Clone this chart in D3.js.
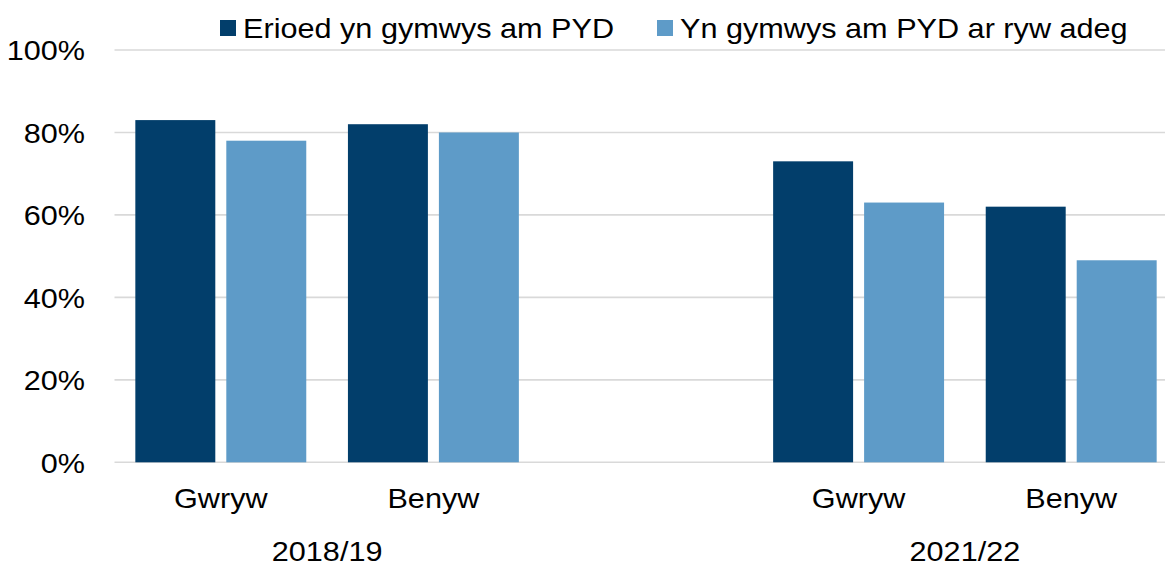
<!DOCTYPE html>
<html>
<head>
<meta charset="utf-8">
<script src="https://cdn.jsdelivr.net/npm/d3@7"></script>
<style>
  html, body { margin: 0; padding: 0; background: #fff; }
  svg { display: block; font-family: "Liberation Sans", Arial, sans-serif; }
</style>
</head>
<body>
<svg></svg>
<script>
// Data
const periods = ["2018/19", "2021/22"];
const genders = ["Gwryw", "Benyw"];
const seriesNames = ["Erioed yn gymwys am PYD", "Yn gymwys am PYD ar ryw adeg"];
const seriesColors = ["#023E6B", "#5E9BC8"];
const erioedGymwys = [83, 82, 73, 62];   // Gwryw 18/19, Benyw 18/19, Gwryw 21/22, Benyw 21/22
const gymwysRywAdeg = [78, 80, 63, 49];
const yTicks = [0, 20, 40, 60, 80, 100];

const width = 1165, height = 567;
const svg = d3.select("svg").attr("width", width).attr("height", height);
const fs = 28.5, stretch = 1.075;

// slots: two genders per period, empty slot between periods
const slots = [];
periods.forEach((p, pi) => {
    genders.forEach((g, gi) => slots.push({ key: p + "-" + g, period: p, gender: g, idx: pi * 2 + gi }));
    if (pi < periods.length - 1) slots.push({ key: "gap" + pi, gap: true });
});
const bars = slots.filter(s => !s.gap);

const x0 = d3.scaleBand()
    .domain(slots.map(s => s.key))
    .range([114.5, 1177.5])
    .padding(0);

const x1 = d3.scaleBand()
    .domain(seriesNames)
    .range([0, x0.bandwidth()])
    .paddingInner(0.121)
    .paddingOuter(0.229);

const y = d3.scaleLinear().domain([0, 100]).range([462.3, 50]);

// Gridlines
svg.append("g")
    .selectAll("line")
    .data(yTicks)
    .enter().append("line")
    .attr("x1", 114.5).attr("x2", 1177.5)
    .attr("y1", d => y(d)).attr("y2", d => y(d))
    .attr("stroke", "#d9d9d9")
    .attr("stroke-width", 1.6);

// Y labels
svg.append("g")
    .selectAll("text")
    .data(yTicks)
    .enter().append("text")
    .attr("transform", d => `translate(85,${y(d)}) scale(${stretch},1)`)
    .attr("text-anchor", "end")
    .attr("dy", "0.36em")
    .attr("font-size", fs)
    .attr("fill", "#000")
    .text(d => d + "%");

// Bars
const values = [erioedGymwys, gymwysRywAdeg];
const grp = svg.append("g")
    .selectAll("g.bar-group")
    .data(bars)
    .enter().append("g")
    .attr("class", "bar-group")
    .attr("transform", d => `translate(${x0(d.key)},0)`);

grp.selectAll("rect")
    .data(d => seriesNames.map((name, si) => ({ name, si, value: values[si][d.idx] })))
    .enter().append("rect")
    .attr("x", d => x1(d.name))
    .attr("y", d => y(d.value))
    .attr("width", x1.bandwidth())
    .attr("height", d => y(0) - y(d.value))
    .attr("fill", d => seriesColors[d.si]);

// Category labels
svg.append("g")
    .selectAll("text")
    .data(bars)
    .enter().append("text")
    .attr("transform", d => `translate(${x0(d.key) + x0.bandwidth() / 2},508) scale(${stretch},1)`)
    .attr("text-anchor", "middle")
    .attr("font-size", fs)
    .text(d => d.gender);

// Period labels
svg.append("g")
    .selectAll("text")
    .data(periods)
    .enter().append("text")
    .attr("transform", p => {
        const ks = bars.filter(b => b.period === p).map(b => x0(b.key) + x0.bandwidth() / 2);
        return `translate(${d3.mean(ks)},561) scale(${stretch},1)`;
    })
    .attr("text-anchor", "middle")
    .attr("font-size", fs)
    .text(p => p);

// Legend
const legendX = [220, 657];
const leg = svg.append("g")
    .selectAll("g")
    .data(seriesNames)
    .enter().append("g")
    .attr("transform", (d, i) => `translate(${legendX[i]},20)`);
leg.append("rect")
    .attr("width", 16).attr("height", 16)
    .attr("fill", (d, i) => seriesColors[i]);
leg.append("text")
    .attr("transform", `translate(23,8) scale(${stretch},1)`)
    .attr("dy", "0.36em")
    .attr("font-size", fs)
    .text(d => d);
</script>
</body>
</html>
